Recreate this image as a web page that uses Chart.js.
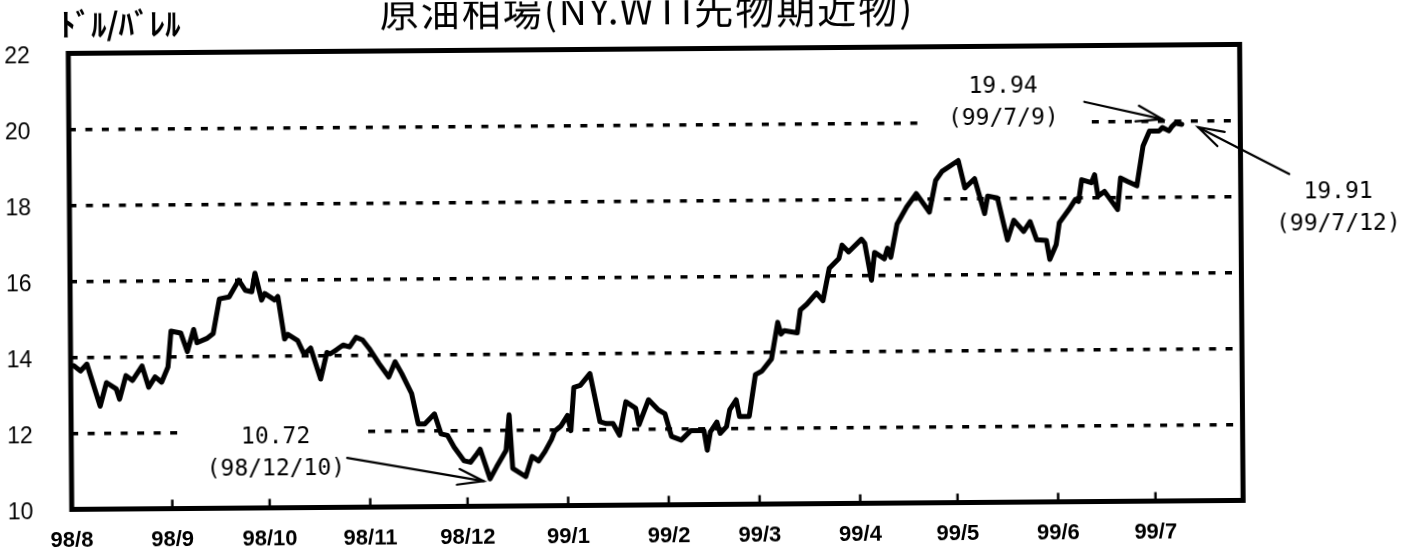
<!DOCTYPE html>
<html><head><meta charset="utf-8">
<script src="https://cdn.jsdelivr.net/npm/chart.js@4.4.0/dist/chart.umd.min.js"></script>
<style>
html,body{margin:0;padding:0;background:#fff;overflow:hidden;width:1419px;height:555px}
#wrap{position:absolute;left:0;top:0;width:1419px;height:555px;transform:rotate(-0.44deg);transform-origin:709px 277px}
</style></head><body><div id="wrap"><canvas id="c" width="1419" height="555"></canvas></div>
<script>
const dates = [
'98/8/2','98/8/4','98/8/6','98/8/10','98/8/12','98/8/15','98/8/16','98/8/18','98/8/20','98/8/23','98/8/25','98/8/27','98/8/29','98/8/31',
'98/9/1','98/9/4','98/9/6','98/9/8','98/9/9','98/9/12','98/9/14','98/9/16','98/9/19','98/9/22','98/9/24','98/9/26','98/9/27','98/9/29','98/9/30',
'98/10/3','98/10/4','98/10/6','98/10/7','98/10/10','98/10/12','98/10/14','98/10/17','98/10/19','98/10/20','98/10/22','98/10/24','98/10/26','98/10/28','98/10/30',
'98/11/1','98/11/4','98/11/7','98/11/9','98/11/11','98/11/14','98/11/16','98/11/18','98/11/21','98/11/23','98/11/25','98/11/27','98/11/30',
'98/12/2','98/12/4','98/12/5','98/12/8','98/12/10','98/12/13','98/12/14','98/12/15','98/12/19','98/12/21','98/12/23','98/12/25','98/12/27','98/12/28','98/12/30',
'99/1/1','99/1/2','99/1/3','99/1/5','99/1/8','99/1/11','99/1/13','99/1/15','99/1/17','99/1/19','99/1/22','99/1/23','99/1/26','99/1/29','99/1/31',
'99/2/2','99/2/5','99/2/8','99/2/12','99/2/13','99/2/14','99/2/16','99/2/17','99/2/19','99/2/20','99/2/22','99/2/23','99/2/26','99/2/28',
'99/3/2','99/3/5','99/3/7','99/3/8','99/3/9','99/3/13','99/3/14','99/3/16','99/3/19','99/3/21','99/3/23','99/3/26','99/3/27','99/3/29',
'99/4/2','99/4/3','99/4/5','99/4/6','99/4/9','99/4/10','99/4/11','99/4/13','99/4/16','99/4/19','99/4/23','99/4/25','99/4/27',
'99/5/2','99/5/4','99/5/7','99/5/10','99/5/11','99/5/14','99/5/17','99/5/19','99/5/22','99/5/24','99/5/26','99/5/29','99/5/30',
'99/6/1','99/6/2','99/6/5','99/6/7','99/6/8','99/6/9','99/6/12','99/6/13','99/6/14','99/6/16','99/6/20','99/6/21','99/6/23','99/6/26','99/6/28','99/6/30',
'99/7/3','99/7/4','99/7/6','99/7/7','99/7/8','99/7/10'
];
const prices = [
13.78,13.64,13.82,12.71,13.33,13.16,12.89,13.51,13.38,13.76,13.20,13.47,13.33,13.73,
14.67,14.62,14.13,14.71,14.36,14.47,14.60,15.51,15.56,16.00,15.73,15.69,16.18,15.47,15.64,
15.47,15.56,14.44,14.56,14.40,14.03,14.20,13.38,14.08,14.04,14.15,14.27,14.22,14.47,14.40,
14.18,13.78,13.42,13.82,13.51,12.98,12.18,12.18,12.44,11.91,11.87,11.56,11.20,
11.16,11.38,11.50,10.72,11.03,11.47,12.40,10.99,10.77,11.30,11.18,11.43,11.74,11.96,12.10,
12.37,11.97,13.11,13.16,13.47,12.20,12.15,12.15,11.84,12.72,12.55,12.11,12.77,12.50,12.40,
11.80,11.70,11.95,11.95,11.43,11.91,12.17,11.87,12.05,12.49,12.75,12.31,12.31,13.41,
13.50,13.82,14.78,14.47,14.56,14.50,15.10,15.25,15.54,15.34,16.19,16.45,16.80,16.62,
16.95,16.84,15.87,16.60,16.43,16.71,16.47,17.34,17.79,18.14,17.65,18.48,18.72,
19.00,18.28,18.52,17.60,18.06,18.01,16.90,17.42,17.12,17.38,16.90,16.88,16.38,
16.77,17.34,17.69,17.95,17.90,18.47,18.39,18.60,18.03,18.16,17.68,18.51,18.42,18.30,19.35,19.74,
19.74,19.83,19.74,19.86,19.94,19.91
];
const monthLabels = ['98/8','98/9','98/10','98/11','98/12','99/1','99/2','99/3','99/4','99/5','99/6','99/7'];
const monthStarts = ['98/8/1','98/9/1','98/10/1','98/11/1','98/12/1','99/1/1','99/2/1','99/3/1','99/4/1','99/5/1','99/6/1','99/7/1'];
const axisEnd = '99/7/28';
const yMin = 10, yMax = 22, yStep = 2;
const titleText = '原油相場(NY.WTI先物期近物)';
const unitText = 'ﾄﾞﾙ/ﾊﾞﾚﾙ';
const notes = [
  {lines:['10.72','(98/12/10)'], at:['98/10/3', 11.43], box:[179,72]},
  {lines:['19.94','(99/7/9)'], at:['99/5/16', 20.52], box:[165,70]},
  {lines:['19.91','(99/7/12)'], at:['99/8/27', 17.66], box:[0,0]}
];
const arrows = [
  {from:['98/10/25', 11.30], to:['98/12/6', 10.66]},
  {from:['99/6/10', 20.52], to:['99/7/4', 20.05]},
  {from:['99/8/12', 18.58], to:['99/7/15', 19.83]}
];

const ORIGIN = Date.UTC(1998,7,1);
function toDay(s){ const p=s.split('/').map(Number); return (Date.UTC(1900+p[0], p[1]-1, p[2]) - ORIGIN)/86400000; }
const points = dates.map((d,i)=>({x:toDay(d), y:prices[i]}));

const decor = {
  id:'decor',
  beforeDatasetsDraw(chart){
    const ctx=chart.ctx, xs=chart.scales.x, ys=chart.scales.y;
    ctx.save(); ctx.fillStyle='#fff';
    notes.forEach(n=>{
      if(!n.box[0]) return;
      const cx=xs.getPixelForValue(toDay(n.at[0])), cy=ys.getPixelForValue(n.at[1]);
      ctx.fillRect(cx-n.box[0]/2, cy-n.box[1]/2, n.box[0], n.box[1]);
    });
    ctx.restore();
  },
  afterDatasetsDraw(chart){
    const ctx=chart.ctx, a=chart.chartArea, xs=chart.scales.x;
    ctx.save();
    ctx.strokeStyle='#000'; ctx.lineWidth=5; ctx.lineJoin='miter';
    ctx.strokeRect(a.left, a.top, a.right-a.left, a.bottom-a.top);
    ctx.lineWidth=2.5;
    monthStarts.forEach((m,i)=>{ if(i===0) return; const x=xs.getPixelForValue(toDay(m));
      ctx.beginPath(); ctx.moveTo(x, a.bottom); ctx.lineTo(x, a.bottom-9); ctx.stroke(); });
    ctx.restore();
  },
  afterDraw(chart){
    const ctx=chart.ctx, xs=chart.scales.x, ys=chart.scales.y;
    ctx.save(); ctx.fillStyle='#000'; ctx.strokeStyle='#000';
    // title
    ctx.font='39px "Noto Sans CJK JP"'; ctx.textAlign='center'; ctx.textBaseline='alphabetic';
    try{ ctx.letterSpacing='2px'; }catch(e){}
    ctx.fillText(titleText, 649, 24);
    try{ ctx.letterSpacing='0px'; }catch(e){}
    ctx.font='bold 31px "Noto Sans CJK JP"'; ctx.textAlign='left';
    ctx.fillText(unitText, 62, 31);
    // notes
    ctx.font='23px "DejaVu Sans Mono"'; ctx.textAlign='center'; ctx.textBaseline='middle';
    notes.forEach(n=>{
      const cx=xs.getPixelForValue(toDay(n.at[0])), cy=ys.getPixelForValue(n.at[1]);
      ctx.fillText(n.lines[0], cx, cy-16); ctx.fillText(n.lines[1], cx, cy+16);
    });
    // arrows
    ctx.lineWidth=2.2; ctx.lineCap='round';
    arrows.forEach(ar=>{
      const x1=xs.getPixelForValue(toDay(ar.from[0])), y1=ys.getPixelForValue(ar.from[1]);
      const x2=xs.getPixelForValue(toDay(ar.to[0])), y2=ys.getPixelForValue(ar.to[1]);
      ctx.beginPath(); ctx.moveTo(x1,y1); ctx.lineTo(x2,y2); ctx.stroke();
      const ang=Math.atan2(y1-y2, x1-x2), L=27, h=0.3;
      ctx.beginPath();
      ctx.moveTo(x2+L*Math.cos(ang+h), y2+L*Math.sin(ang+h)); ctx.lineTo(x2,y2);
      ctx.lineTo(x2+L*Math.cos(ang-h), y2+L*Math.sin(ang-h)); ctx.stroke();
    });
    ctx.restore();
  }
};

new Chart(document.getElementById('c'), {
  type:'line',
  data:{ datasets:[{ data: points, borderColor:'#000', borderWidth:5, pointRadius:0, tension:0, borderJoinStyle:'round', borderCapStyle:'round', fill:false }]},
  options:{
    responsive:false, devicePixelRatio:1, animation:false,
    layout:{ padding:{ left:6, right:177.6, top:48.5, bottom:0 } },
    plugins:{ legend:{display:false}, tooltip:{enabled:false}, title:{display:false} },
    scales:{
      x:{ type:'linear', min:0, max:toDay(axisEnd),
        afterBuildTicks(s){ s.ticks = monthStarts.map(m=>({value:toDay(m)})); },
        afterFit(s){ s.height = 50.5; },
        grid:{ display:false, drawTicks:false },
        border:{ display:false },
        ticks:{ autoSkip:false, maxRotation:0, padding:18, color:'#000',
          font:{ family:'"Liberation Sans", Arial, sans-serif', size:22, weight:'bold' },
          callback:(v,i)=>monthLabels[i] }
      },
      y:{ min:yMin, max:yMax,
        afterFit(s){ s.width = 64; },
        grid:{ drawTicks:false, lineWidth:3.5,
          color:(c)=> (c.tick && c.tick.value>yMin && c.tick.value<yMax) ? '#000' : 'rgba(0,0,0,0)' },
        border:{ display:false, dash:[7,9.5] },
        ticks:{ stepSize:yStep, crossAlign:'far', labelOffset:3, color:'#000',
          font:{ family:'"Liberation Sans", Arial, sans-serif', size:23 },
          callback:(v)=>String(v) }
      }
    }
  },
  plugins:[decor]
});
</script></body></html>
